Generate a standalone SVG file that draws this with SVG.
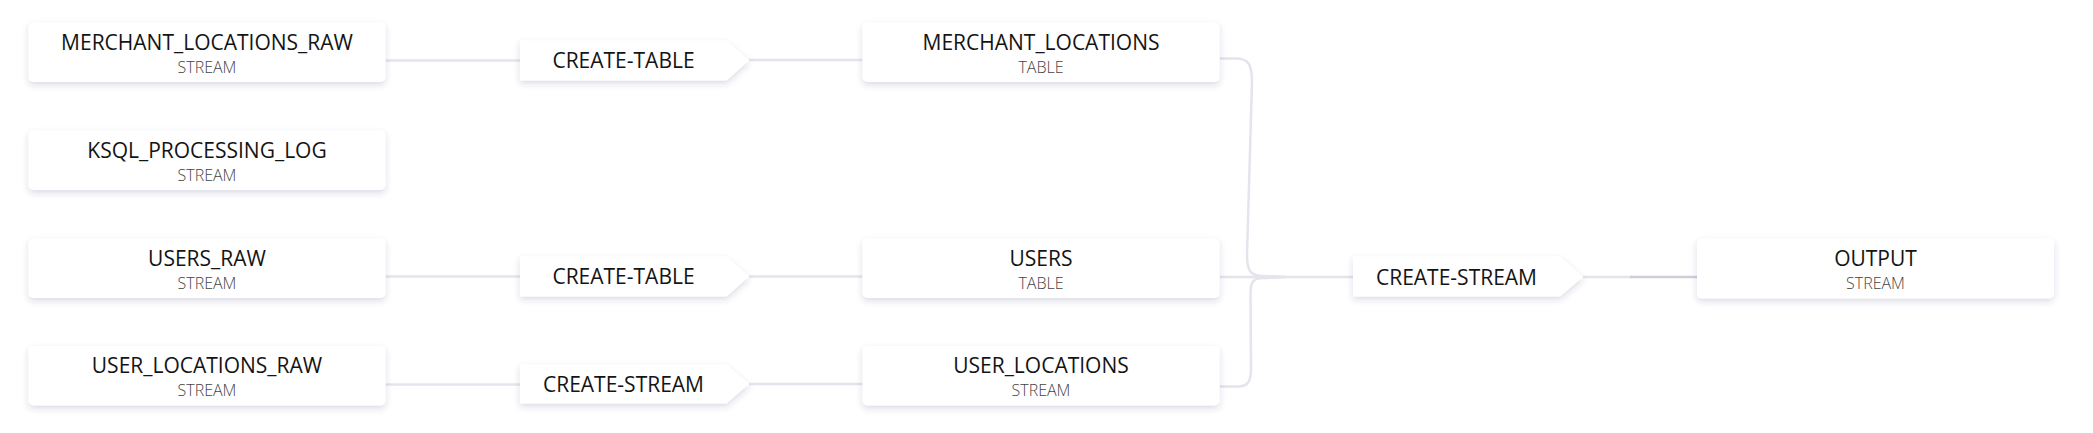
<svg xmlns="http://www.w3.org/2000/svg" width="2093" height="433" viewBox="0 0 2093 433">
<defs>
<filter id="sh" x="-10%" y="-30%" width="120%" height="170%">
<feDropShadow dx="0" dy="3" stdDeviation="3" flood-color="#3c3c78" flood-opacity="0.18"/>
</filter>
<style>
.node rect{fill:#ffffff;filter:url(#sh)}
.op polygon{fill:#ffffff;filter:url(#sh)}
.t{font-family:"Open Sans","Noto Sans","DejaVu Sans",sans-serif;font-size:21px;font-weight:500;fill:#141414;text-anchor:middle}
.s{font-family:"Open Sans","Noto Sans","DejaVu Sans",sans-serif;font-size:16px;font-weight:300;fill:#444444;text-anchor:middle}
.edge{fill:none;stroke:#e4e4ec;stroke-width:2.5}
.edge-end{fill:none;stroke:#cfcfdb;stroke-width:2.5}
</style>
</defs>
<rect width="2093" height="433" fill="#ffffff"/>
<g id="connectors">
<path class="edge" d="M385.5,60.5 H520"/>
<path class="edge" d="M749,60 H862.5"/>
<path class="edge" d="M385.5,276.5 H520"/>
<path class="edge" d="M749,276.5 H862.5"/>
<path class="edge" d="M385.5,384.5 H520"/>
<path class="edge" d="M749,384 H862.5"/>
<path class="edge" d="M1219.5,58.5 H1236 C1248,58.5 1252,64 1252,82 L1247,255 C1247,270 1250,275.5 1262,276 C1272,276.3 1279,276.6 1286,277"/>
<path class="edge" d="M1219.5,386.5 H1238 C1249,386.5 1251,380 1251,368 L1250.5,295 C1250.5,283 1252,278.5 1262,278 C1272,277.7 1279,277.4 1286,277"/>
<path class="edge" d="M1219.5,277 H1353"/>
<path class="edge" d="M1583,277 H1632"/>
<path class="edge-end" d="M1630,277 H1697"/>
</g>
<g id="merchant_locations_raw" class="node">
<rect x="28.5" y="22.5" width="357" height="59.5" rx="5"/>
<text class="t" x="207" y="49.5">MERCHANT_LOCATIONS_RAW</text>
<text class="s" x="207" y="72.5">STREAM</text>
</g>
<g id="ksql_processing_log" class="node">
<rect x="28.5" y="130.5" width="357" height="59.5" rx="5"/>
<text class="t" x="207" y="157.5">KSQL_PROCESSING_LOG</text>
<text class="s" x="207" y="180.5">STREAM</text>
</g>
<g id="users_raw" class="node">
<rect x="28.5" y="238.5" width="357" height="59.5" rx="5"/>
<text class="t" x="207" y="265.5">USERS_RAW</text>
<text class="s" x="207" y="288.5">STREAM</text>
</g>
<g id="user_locations_raw" class="node">
<rect x="28.5" y="346" width="357" height="59.5" rx="5"/>
<text class="t" x="207" y="373">USER_LOCATIONS_RAW</text>
<text class="s" x="207" y="396">STREAM</text>
</g>
<g id="op_create_table_1" class="op">
<polygon points="520,40.5 726.5,40.5 749,60.5 726.5,80.5 520,80.5"/>
<text class="t" x="623.5" y="68">CREATE-TABLE</text>
</g>
<g id="op_create_table_2" class="op">
<polygon points="520,256.5 726.5,256.5 749,276.5 726.5,296.5 520,296.5"/>
<text class="t" x="623.5" y="284">CREATE-TABLE</text>
</g>
<g id="op_create_stream_1" class="op">
<polygon points="520,364.5 726.5,364.5 749,384 726.5,403.5 520,403.5"/>
<text class="t" x="623.5" y="391.7">CREATE-STREAM</text>
</g>
<g id="merchant_locations" class="node">
<rect x="862.5" y="22.5" width="357" height="59.5" rx="5"/>
<text class="t" x="1041" y="49.5">MERCHANT_LOCATIONS</text>
<text class="s" x="1041" y="72.5">TABLE</text>
</g>
<g id="users" class="node">
<rect x="862.5" y="238.5" width="357" height="59.5" rx="5"/>
<text class="t" x="1041" y="265.5">USERS</text>
<text class="s" x="1041" y="288.5">TABLE</text>
</g>
<g id="user_locations" class="node">
<rect x="862.5" y="346" width="357" height="59.5" rx="5"/>
<text class="t" x="1041" y="373">USER_LOCATIONS</text>
<text class="s" x="1041" y="396">STREAM</text>
</g>
<g id="op_create_stream_2" class="op">
<polygon points="1353,256.5 1560,256.5 1583,277 1560,296.5 1353,296.5"/>
<text class="t" x="1456.5" y="284.5">CREATE-STREAM</text>
</g>
<g id="output" class="node">
<rect x="1697" y="238.5" width="357" height="60" rx="5"/>
<text class="t" x="1875.5" y="265.5">OUTPUT</text>
<text class="s" x="1875.5" y="288.5">STREAM</text>
</g>
</svg>
